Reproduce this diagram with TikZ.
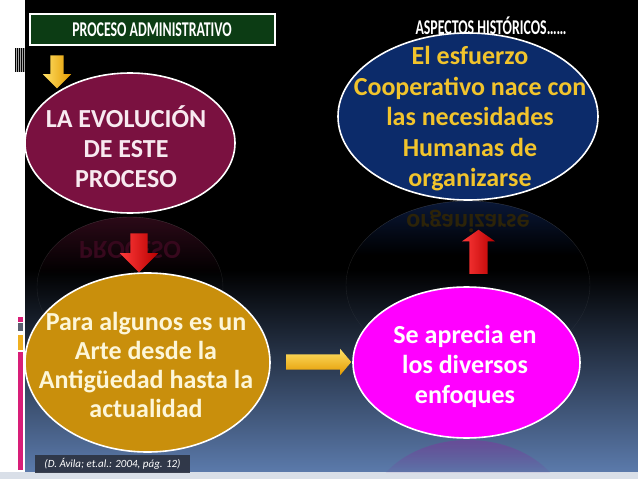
\documentclass[tikz,border=0pt]{standalone}
\usepackage{fontspec}
\setmainfont{Carlito}
\newfontfamily\condfont[FakeStretch=0.66]{Carlito}
\usetikzlibrary{shapes.geometric,shapes.arrows,fadings}
\definecolor{bgmid}{HTML}{1A2233}
\definecolor{bgblue}{HTML}{5B7AAB}
\definecolor{strip}{HTML}{D9DFE8}
\definecolor{hdrgreen}{HTML}{0C3C14}
\definecolor{maroonfill}{HTML}{7A1140}
\definecolor{goldfill}{HTML}{C98F0C}
\definecolor{magfill}{HTML}{FF00FF}
\definecolor{navyfill}{HTML}{0C2B6A}
\definecolor{maroontext}{HTML}{F8EAF0}
\definecolor{goldtext}{HTML}{FDF6D8}
\definecolor{navytext}{HTML}{F2C42C}
\definecolor{pinkbar}{HTML}{D81E78}
\definecolor{greybar}{HTML}{5A6070}
\definecolor{yellowbar}{HTML}{F0B020}
\definecolor{arrowlight}{HTML}{FFE066}
\definecolor{arrowdark}{HTML}{E39A00}
\definecolor{redlight}{HTML}{FF3A3A}
\definecolor{reddark}{HTML}{B80000}
\definecolor{citefill}{HTML}{2C3240}
\definecolor{reflmaroon}{HTML}{2C0A18}
\definecolor{reflnavy}{HTML}{0A1838}
\definecolor{reflmag}{HTML}{7A3C9E}
\begin{document}
\begin{tikzpicture}[x=1pt,y=-1pt,
  ell/.style={ellipse, draw=white, line width=1.6pt, inner sep=0pt},
  etxt/.style={font=\bfseries\fontsize{26}{30}\selectfont, align=center, inner sep=0pt},
  hdr/.style={font=\condfont\bfseries\fontsize{21}{24}\selectfont, text=white, inner sep=0pt},
  blockarrow/.style={single arrow, inner xsep=0pt, text width=0pt, text height=0pt, text depth=0pt, single arrow head indent=0pt},
  mirror/.style={etxt, yscale=-1}
]
\useasboundingbox (0,0) rectangle (638,479);
% background
\fill[white] (0,0) rectangle (638,479);
\fill[black] (25,0) rectangle (638,272);
\shade[top color=black, middle color=bgmid, bottom color=bgblue] (25,270) rectangle (638,472);
\fill[strip] (0,472) rectangle (638,479);
% left decorations
\fill[black] (15,48) rectangle (25,72);
\foreach \sx in {15.5,17.5,19.5,21.5,23.5} \fill[gray!70] (\sx,48) rectangle (\sx+1,72);
\fill[pinkbar] (18,317) rectangle (23,322);
\fill[greybar] (18,323) rectangle (23,331);
\fill[yellowbar] (18,335) rectangle (23,350);
\fill[pinkbar] (18,352) rectangle (23,470);
% reflections
\begin{scope}
\clip (130,287) ellipse [x radius=93pt, y radius=70pt];
\fill[reflmaroon, path fading=south] (30,217) rectangle (230,275);
\end{scope}
\draw[white, draw opacity=0.18, path fading=south] (130,287) ellipse [x radius=93pt, y radius=70pt];
\node[mirror, text=maroonfill!45!black] (reflA) at (130,250) {PROCESO};
\begin{scope}
\clip (468,285) ellipse [x radius=122pt, y radius=84pt];
\fill[reflnavy, path fading=south] (340,201) rectangle (600,255);
\end{scope}
\draw[white, draw opacity=0.18, path fading=south] (468,285) ellipse [x radius=122pt, y radius=84pt];
\node[mirror, text=navytext!18!black] (reflB) at (468,221) {organizarse};
\begin{scope}
\clip (25,0) rectangle (638,472);
\clip (468,516) ellipse [x radius=100pt, y radius=76pt];
\fill[reflmag, fill opacity=0.6, path fading=south] (360,440) rectangle (580,478);
\end{scope}
% ellipses
\node[ell, fill=maroonfill, minimum width=210pt, minimum height=140pt] (evol) at (130,143) {};
\node[etxt, text=maroontext] (evolT) at (126,147) {LA EVOLUCIÓN\\DE ESTE\\PROCESO};
\node[ell, fill=goldfill, minimum width=245pt, minimum height=179pt] (arte) at (147.5,362.5) {};
\node[etxt, text=goldtext, font=\bfseries\fontsize{26}{29.3}\selectfont] (arteT) at (146,365) {Para algunos es un\\Arte desde la\\Antigüedad hasta la\\actualidad};
\node[ell, fill=magfill, minimum width=227pt, minimum height=151pt] (enf) at (466.5,362.5) {};
\node[etxt, text=white] (enfT) at (465,366) {Se aprecia en\\los diversos\\enfoques};
\node[ell, fill=navyfill, minimum width=260pt, minimum height=167pt] (coop) at (468,116.5) {};
\node[etxt, text=navytext, font=\bfseries\fontsize{26}{30.5}\selectfont] (coopT) at (470,119) {El esfuerzo\\Cooperativo nace con\\las necesidades\\Humanas de\\organizarse};
% headers
\node[draw=white, line width=1.5pt, fill=hdrgreen, minimum width=245pt, minimum height=31pt, inner sep=0pt] (hdrbox) at (152.5,29.5) {};
\node[hdr] (hdrT) at (152,30) {PROCESO ADMINISTRATIVO};
\node[hdr] (aspT) at (491,26) {ASPECTOS HISTÓRICOS……};
% citation
\node[fill=citefill, fill opacity=0.9, text opacity=1, text=white, minimum width=155pt, minimum height=18pt, inner sep=0pt, font=\itshape\fontsize{11}{13}\selectfont] (cite) at (112.5,464) {(D. Ávila; et.al.: 2004, pág. 12)};
% block arrows
\node[blockarrow, rotate=-90, inner ysep=6.5pt, single arrow head extend=7.5pt, minimum height=33pt, left color=arrowlight, right color=arrowdark] (a1) at (57,68.5) {};
\node[blockarrow, rotate=-90, inner ysep=8.5pt, single arrow head extend=10.5pt, minimum height=39pt, left color=redlight, right color=reddark] (a2) at (139,248.5) {};
\node[blockarrow, inner ysep=7.5pt, single arrow head extend=5.5pt, minimum height=65pt, single arrow tip angle=100, top color=arrowlight, bottom color=arrowdark] (a3) at (315.5,362) {};
\node[blockarrow, rotate=90, inner ysep=9pt, single arrow head extend=7.5pt, minimum height=44pt, single arrow tip angle=110, left color=redlight, right color=reddark] (a4) at (478.5,255) {};
\end{tikzpicture}
\end{document}
